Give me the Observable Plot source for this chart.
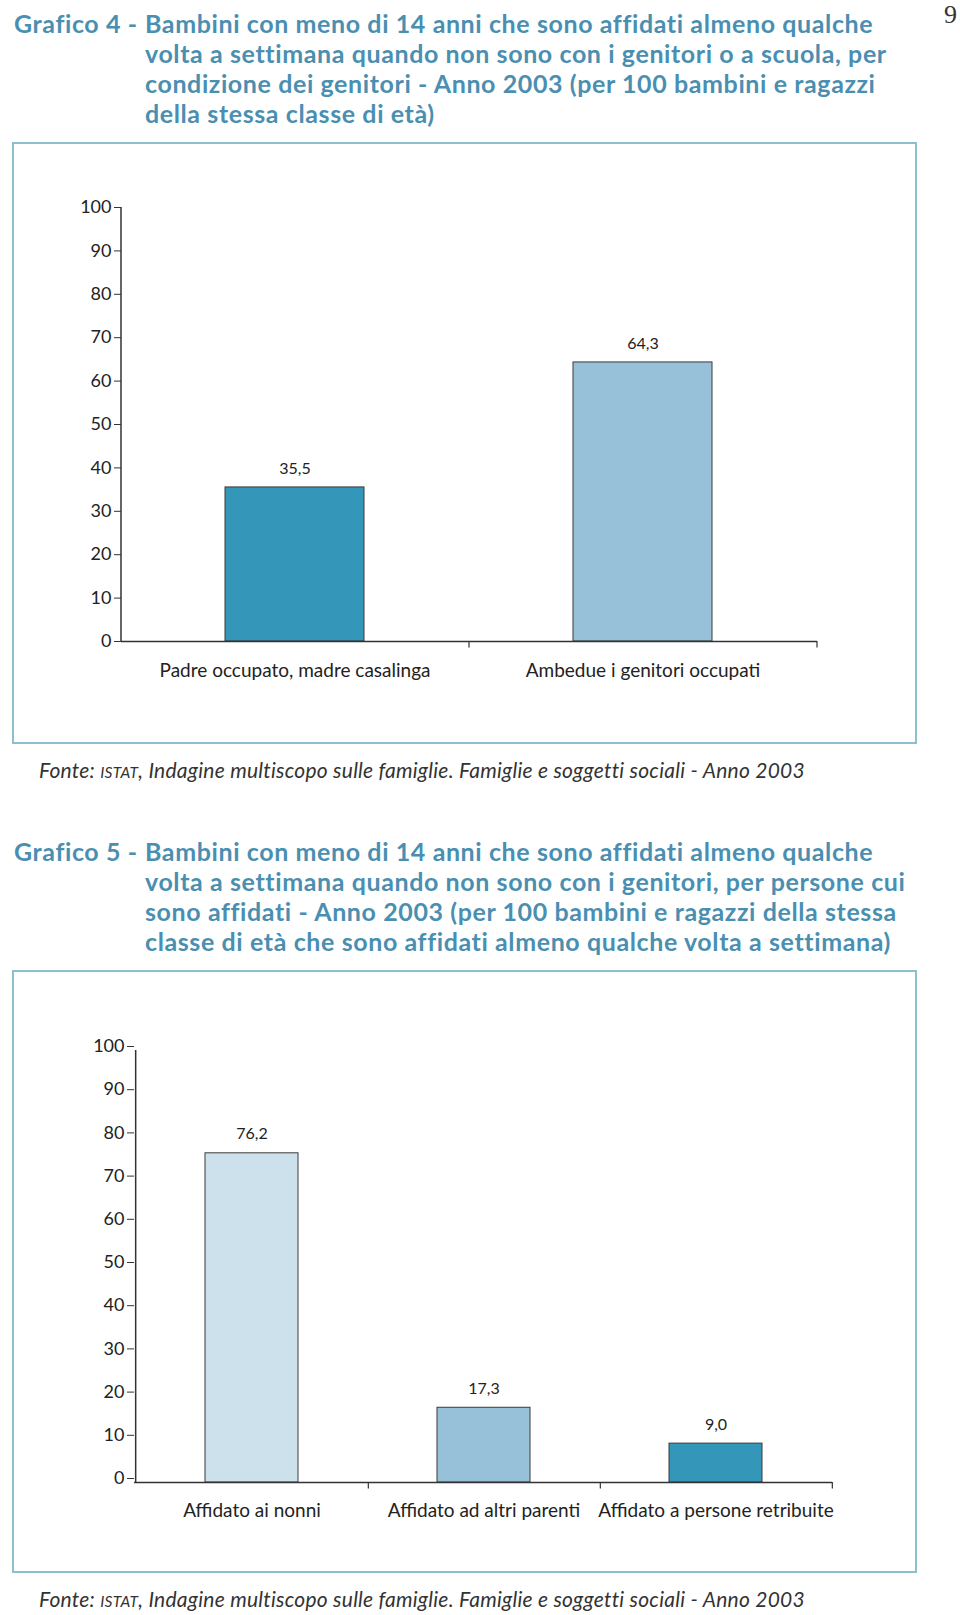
<!DOCTYPE html>
<html><head><meta charset="utf-8">
<script src="https://cdn.jsdelivr.net/npm/d3@7"></script>
<script src="https://cdn.jsdelivr.net/npm/@observablehq/plot@0.6"></script>
<style>
body{margin:0;width:960px;height:1615px;position:relative;background:#fff;font-family:Lato,"Open Sans",sans-serif;overflow:hidden}
.title{position:absolute;left:14px;color:#4a8fb1;font-weight:700;font-size:25px;letter-spacing:0.6px;line-height:30px;}
.title .lab{position:absolute;left:0;top:0;white-space:nowrap}
.title .txt{margin-left:131px;white-space:nowrap}
.box{position:absolute;left:12px;width:901px;border:2px solid #8dbfcf;}
.chart{position:absolute;left:0;}
.caption{position:absolute;left:39px;font-style:italic;font-size:21px;letter-spacing:0.25px;line-height:24px;color:#333;white-space:nowrap}
.sc{font-size:0.74em}
.page{position:absolute;left:944px;top:0;font-family:"Liberation Serif",serif;font-size:26px;color:#333}
</style>
</head><body>
<div class="page">9</div>
<div class="title" id="t1" style="top:8px"></div>
<div class="box" style="top:142px;height:598px"></div>
<div class="chart" id="c1" style="top:144px"></div>
<div class="caption" style="top:758px">Fonte: <span class="sc">ISTAT</span>, Indagine multiscopo sulle famiglie. Famiglie e soggetti sociali - Anno 2003</div>
<div class="title" id="t2" style="top:836px"></div>
<div class="box" style="top:970px;height:599px"></div>
<div class="chart" id="c2" style="top:972px"></div>
<div class="caption" style="top:1587px">Fonte: <span class="sc">ISTAT</span>, Indagine multiscopo sulle famiglie. Famiglie e soggetti sociali - Anno 2003</div>
<script>
// ---- Data ----
const title1Label = "Grafico 4 -";
const title1Lines = [
  "Bambini con meno di 14 anni che sono affidati almeno qualche",
  "volta a settimana quando non sono con i genitori o a scuola, per",
  "condizione dei genitori - Anno 2003 (per 100 bambini e ragazzi",
  "della stessa classe di età)"
];
const title2Label = "Grafico 5 -";
const title2Lines = [
  "Bambini con meno di 14 anni che sono affidati almeno qualche",
  "volta a settimana quando non sono con i genitori, per persone cui",
  "sono affidati - Anno 2003 (per 100 bambini e ragazzi della stessa",
  "classe di età che sono affidati almeno qualche volta a settimana)"
];
const categories1 = ["Padre occupato, madre casalinga", "Ambedue i genitori occupati"];
const values1 = [35.5, 64.3];
const categories2 = ["Affidato ai nonni", "Affidato ad altri parenti", "Affidato a persone retribuite"];
const values2 = [76.2, 17.3, 9.0];
const yTicks = [0, 10, 20, 30, 40, 50, 60, 70, 80, 90, 100];

// ---- Styles ----
const palette1 = ["#3496b9", "#96c1d8"];
const palette2 = ["#cde1ec", "#96c1d8", "#3496b9"];

function setTitle(id, label, lines) {
  const el = document.getElementById(id);
  const l = document.createElement("div"); l.className = "lab"; l.textContent = label; el.appendChild(l);
  lines.forEach(t => { const d = document.createElement("div"); d.className = "txt"; d.textContent = t; el.appendChild(d); });
}
setTitle("t1", title1Label, title1Lines);
setTitle("t2", title2Label, title2Lines);

const fmt = v => d3.format(".1f")(v).replace(".", ",");

function chart(cats, vals, palette, o) {
  const data = cats.map((c, i) => ({cat: c, value: vals[i], color: palette[i]}));
  const width = 960;
  const innerW = width - o.ml - o.mr;
  const pi = 0.6, po = 0.3;
  const step = innerW / (cats.length - pi + 2 * po);
  return Plot.plot({
    width, height: o.h,
    marginLeft: o.ml, marginRight: o.mr, marginTop: o.mt, marginBottom: o.mb,
    style: {fontFamily: "Lato, 'Open Sans', sans-serif", color: "#222", background: "transparent"},
    x: {domain: cats, paddingInner: pi, paddingOuter: po, label: null},
    y: {domain: [0, 100], label: null},
    color: {type: "identity"},
    marks: [
      Plot.barY(data, {x: "cat", y: "value", fill: "color", stroke: "#3a3a3a", strokeWidth: 1}),
      Plot.ruleY([0], {stroke: "#333", strokeWidth: 1.5}),
      Plot.ruleX([cats[0]], {dx: -step / 2, y1: 0, y2: 100, stroke: "#333", strokeWidth: 1.5}),
      Plot.ruleX(cats, {dx: step / 2, y1: 0, y2: -1.5, stroke: "#333", strokeWidth: 1.2}),
      Plot.axisY({ticks: yTicks, tickFormat: d => d, tickSize: 7, tickPadding: 3, fontSize: o.tickFont, dy: o.tickDy, stroke: "#333"}),
      Plot.axisX({tickSize: 0, tickPadding: o.xPad, fontSize: 19, label: null}),
      Plot.text(data, {x: "cat", y: "value", text: d => fmt(d.value), dy: -19, fontSize: 16, fill: "#222"})
    ]
  });
}

document.getElementById("c1").appendChild(chart(categories1, values1, palette1, {h: 598, ml: 121, mr: 143, mt: 63, mb: 101, tickFont: 18, tickDy: 0, xPad: 22}));
document.getElementById("c2").appendChild(chart(categories2, values2, palette2, {h: 599, ml: 134, mr: 128, mt: 78, mb: 89, tickFont: 18, tickDy: -4, xPad: 21}));
</script>
</body></html>
